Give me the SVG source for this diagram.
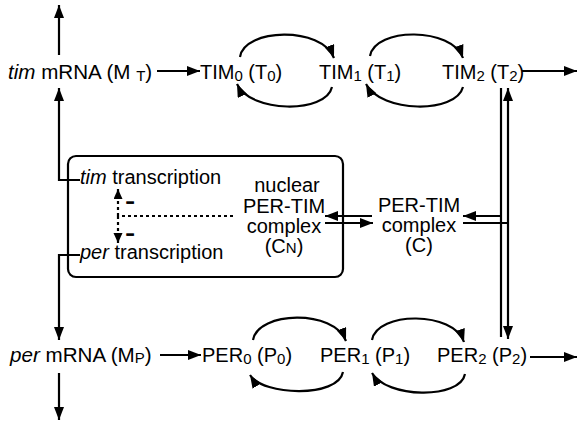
<svg xmlns="http://www.w3.org/2000/svg" width="578" height="424" viewBox="0 0 578 424">
  <style>
    .t { font-family: "Liberation Sans", Arial, sans-serif; font-size: 20px; fill: #000; }
    .m { font-size: 20.6px; }
    .c { text-anchor: middle; }
    .i { font-style: italic; }
    .s { font-size: 15px; }
    .ln { fill: none; stroke: #000; stroke-width: 2.2; }
    .ar { fill: none; stroke: #000; stroke-width: 2.2; marker-end: url(#head); }
    .dash { fill: none; stroke: #000; stroke-width: 2.2; stroke-dasharray: 3 3; }
    .minus { font-family: "Liberation Sans", Arial, sans-serif; font-size: 13px; font-weight: bold; fill: #000; stroke: #000; stroke-width: 1.3; }
  </style>
  <defs>
    <marker id="head" markerUnits="userSpaceOnUse" markerWidth="14" markerHeight="12" refX="13" refY="5" orient="auto">
      <path d="M0,0 L13,5 L0,10 z" fill="#000"/>
    </marker>
    <marker id="small" markerUnits="userSpaceOnUse" markerWidth="11" markerHeight="10" refX="10" refY="4.5" orient="auto">
      <path d="M0,0 L10,4.5 L0,9 z" fill="#000"/>
    </marker>
  </defs>

  <rect width="578" height="424" fill="#fff"/>

  <!-- connectors -->
  <g id="connectors">
    <!-- mRNA synthesis and degradation -->
    <path class="ar" d="M59,55 V5"/>
    <path class="ar" d="M80,180 H59 V88"/>
    <path class="ar" d="M80,255 H59 V340"/>
    <path class="ar" d="M59,373 V420"/>
    <!-- translation -->
    <path class="ar" d="M157,71 H200"/>
    <path class="ar" d="M160,355 H201"/>
    <!-- TIM phosphorylation cycles -->
    <path class="ar" d="M240,57 C244,28 322,26 334,58"/>
    <path class="ar" d="M332,87 C326,114 250,113 237,84"/>
    <path class="ar" d="M370,56 C375,27 452,27 463,58"/>
    <path class="ar" d="M463,87 C456,114 381,113 366,84"/>
    <!-- PER phosphorylation cycles -->
    <path class="ar" d="M253,340 C258,311 334,309 346,341"/>
    <path class="ar" d="M343,372 C338,398 263,396 250,375"/>
    <path class="ar" d="M372,340 C377,311 454,311 464,342"/>
    <path class="ar" d="M465,374 C460,400 386,398 372,373"/>
    <!-- degradation of T2 and P2 -->
    <path class="ar" d="M522,71 H577"/>
    <path class="ar" d="M530,357 H577"/>
    <!-- complex formation / dissociation -->
    <path class="ln" d="M501,88 V337"/>
    <path class="ar" d="M508,223 V88"/>
    <path class="ar" d="M508,223 V339"/>
    <path class="ar" d="M501,216 H463"/>
    <path class="ln" d="M508,223 H463"/>
    <!-- nuclear transport -->
    <path class="ar" d="M372,216 H325"/>
    <path class="ar" d="M325,223 H373"/>
    <!-- repression -->
    <path class="dash" d="M233,216 H118"/>
    <path class="dash" d="M118,216 V189" marker-end="url(#small)"/>
    <path class="dash" d="M118,216 V243" marker-end="url(#small)"/>
  </g>

  <g id="nucleus">
    <rect class="ln" x="68" y="156" width="275" height="121" rx="8"/>
  </g>

  <g id="tim-mrna">
    <text class="t m" x="8" y="79"><tspan class="i">tim</tspan> mRNA (M <tspan class="s" dy="2">T</tspan><tspan dy="-2">)</tspan></text>
  </g>
  <g id="per-mrna">
    <text class="t m" x="10" y="362"><tspan class="i">per</tspan> mRNA (M<tspan class="s" dy="1">P</tspan><tspan dy="-1">)</tspan></text>
  </g>

  <g id="tim0"><text class="t" x="200" y="79">TIM<tspan class="s" dy="2">0</tspan><tspan dy="-2"> (T</tspan><tspan class="s" dy="2">0</tspan><tspan dy="-2">)</tspan></text></g>
  <g id="tim1"><text class="t" x="319" y="79">TIM<tspan class="s" dy="2">1</tspan><tspan dy="-2"> (T</tspan><tspan class="s" dy="2">1</tspan><tspan dy="-2">)</tspan></text></g>
  <g id="tim2"><text class="t" x="442" y="79">TIM<tspan class="s" dy="2">2</tspan><tspan dy="-2"> (T</tspan><tspan class="s" dy="2">2</tspan><tspan dy="-2">)</tspan></text></g>

  <g id="per0"><text class="t" x="202" y="362">PER<tspan class="s" dy="2">0</tspan><tspan dy="-2"> (P</tspan><tspan class="s" dy="2">0</tspan><tspan dy="-2">)</tspan></text></g>
  <g id="per1"><text class="t" x="320" y="362">PER<tspan class="s" dy="2">1</tspan><tspan dy="-2"> (P</tspan><tspan class="s" dy="2">1</tspan><tspan dy="-2">)</tspan></text></g>
  <g id="per2"><text class="t" x="437" y="362">PER<tspan class="s" dy="2">2</tspan><tspan dy="-2"> (P</tspan><tspan class="s" dy="2">2</tspan><tspan dy="-2">)</tspan></text></g>

  <g id="tim-transcription">
    <text class="t" x="80" y="184"><tspan class="i">tim</tspan> transcription</text>
  </g>
  <g id="per-transcription">
    <text class="t" x="80" y="259"><tspan class="i">per</tspan> transcription</text>
  </g>
  <g id="repression-signs">
    <text class="minus" x="126.5" y="206">–</text>
    <text class="minus" x="126.5" y="238">–</text>
  </g>

  <g id="nuclear-complex">
    <text class="t c" x="287" y="192">nuclear</text>
    <text class="t c" x="284" y="213">PER-TIM</text>
    <text class="t c" x="284" y="233">complex</text>
    <text class="t c" x="284" y="253">(C<tspan class="s">N</tspan>)</text>
  </g>

  <g id="complex">
    <text class="t c" x="419" y="212">PER-TIM</text>
    <text class="t c" x="419" y="232">complex</text>
    <text class="t c" x="419" y="252">(C)</text>
  </g>
</svg>
